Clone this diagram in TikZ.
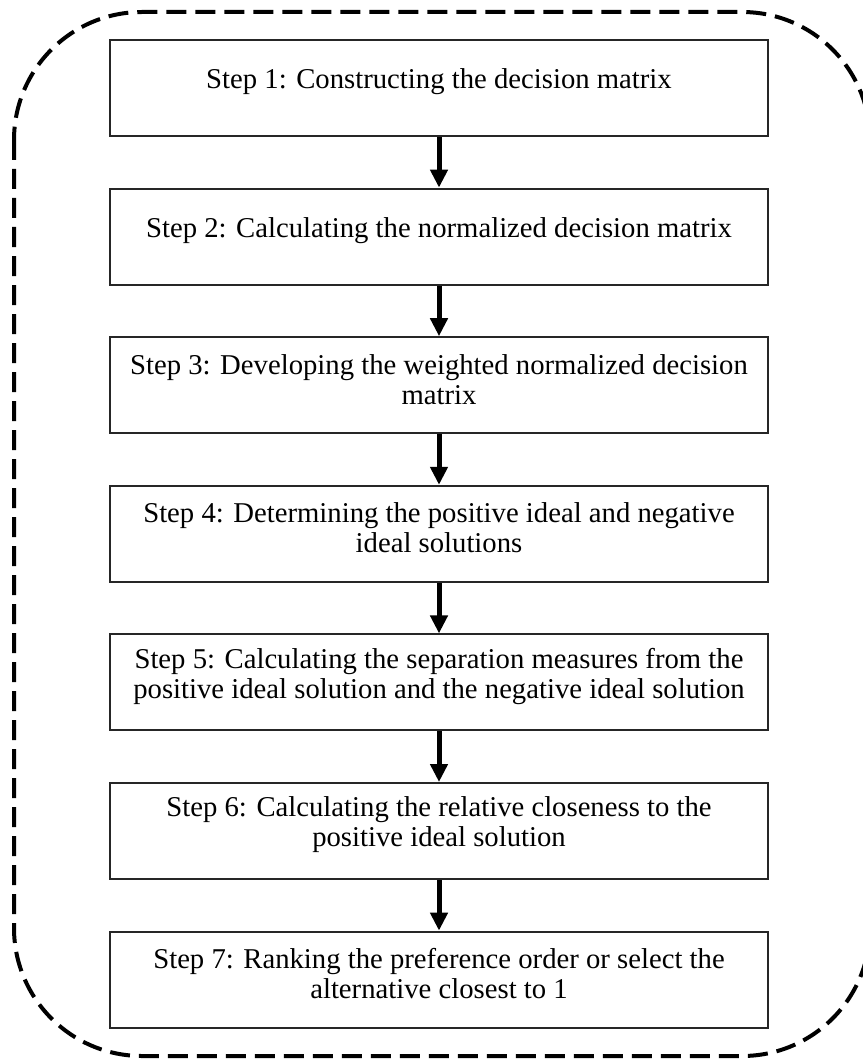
\documentclass[tikz,border=0pt]{standalone}
\usepackage{fontspec}
\setmainfont{Liberation Serif}
\usetikzlibrary{arrows.meta,calc}
\begin{document}
\begin{tikzpicture}[x=1pt,y=-1pt,
  stepbox/.style={draw=black!85, line width=2pt, minimum width=658pt,
    minimum height=96pt, inner sep=0pt},
  steptext/.style={align=center, inner sep=0pt,
    font=\fontsize{28.7pt}{30pt}\selectfont},
  flow/.style={line width=5pt, -{Triangle[width=17pt,length=18pt]}},
  frame/.style={line width=4pt, dash pattern=on 20pt off 9pt,
    rounded corners=128pt}
]
\useasboundingbox (0,0) rectangle (862,1059);

% dashed outer frame
\draw[frame] (14,12) rectangle (870,1056);

% step boxes
\foreach \i/\y in {1/88, 2/236.6, 3/385.2, 4/533.8, 5/682.4, 6/831, 7/979.6}
  \node[stepbox] (s\i) at (439,\y) {};

% step texts
\node[steptext] (t1) at ($(s1.center)+(0,-6)$) {Step 1: Constructing the decision matrix};
\node[steptext] (t2) at ($(s2.center)+(0,-6)$) {Step 2: Calculating the normalized decision matrix};
\node[steptext] (t3) at ($(s3.center)+(0,-6)$) {Step 3: Developing the weighted normalized decision\\matrix};
\node[steptext] (t4) at ($(s4.center)+(0,-6)$) {Step 4: Determining the positive ideal and negative\\ideal solutions};
\node[steptext] (t5) at ($(s5.center)+(0,-6)$) {Step 5: Calculating the separation measures from the\\positive ideal solution and the negative ideal solution};
\node[steptext] (t6) at ($(s6.center)+(0,-6)$) {Step 6: Calculating the relative closeness to the\\positive ideal solution};
\node[steptext] (t7) at ($(s7.center)+(0,-6)$) {Step 7: Ranking the preference order or select the\\alternative closest to 1};

% connectors
\foreach \a/\b in {1/2, 2/3, 3/4, 4/5, 5/6, 6/7}
  \draw[flow] (s\a.south) -- (s\b.north);
\end{tikzpicture}
\end{document}
